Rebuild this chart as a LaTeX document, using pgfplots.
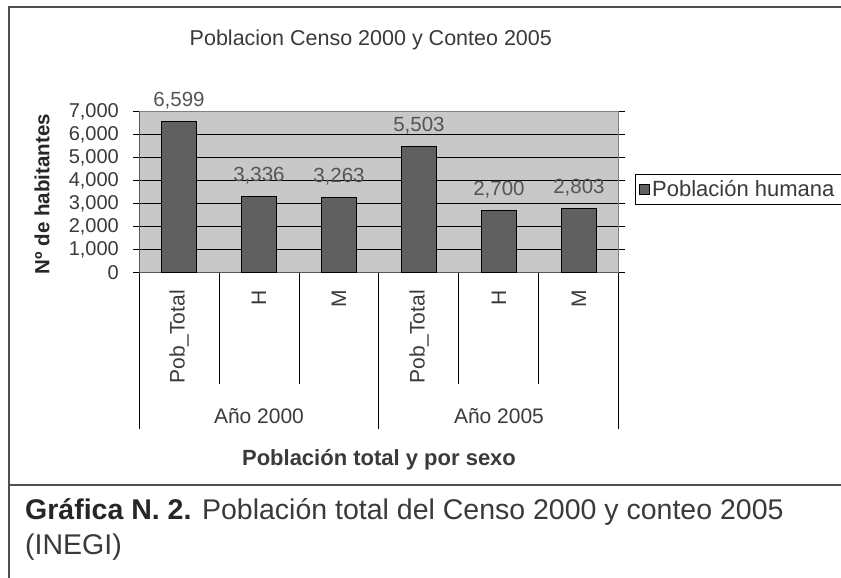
\documentclass[border=0pt]{standalone}
\usepackage{fontspec}
\setmainfont{Liberation Sans}
\usepackage{pgfplots}
\pgfplotsset{compat=1.18}
\definecolor{barcol}{HTML}{606060}
\definecolor{bgcol}{HTML}{C8C8C8}
\definecolor{txt}{HTML}{3A3A3A}
\definecolor{lbl}{HTML}{555555}
\definecolor{framecol}{HTML}{505050}
\begin{document}
\begin{tikzpicture}
\useasboundingbox (0pt,0pt) rectangle (841pt,578pt);
\clip (0pt,0pt) rectangle (841pt,578pt);
\fill[white] (0pt,0pt) rectangle (841pt,578pt);
\draw[framecol, line width=2pt] (9pt,-10pt) -- (9pt,571pt) -- (900pt,571pt);
\draw[framecol, line width=2pt] (9pt,93pt) -- (900pt,93pt);
\begin{axis}[
  at={(139pt,305pt)}, anchor=south west,
  scale only axis, width=480pt, height=161pt,
  xmin=-0.5, xmax=5.5, ymin=0, ymax=7000,
  clip=false,
  axis background/.style={fill=bgcol},
  axis line style={draw=gray!70!black, line width=1pt},
  ytick={0,1000,...,7000},
  ymajorgrids, grid style={black, line width=1pt},
  tick align=outside, major tick length=6pt,
  ytick style={black, line width=1pt},
  xtick style={draw=none},
  xtick={0,...,5},
  xticklabels={Pob\_Total,H,M,Pob\_Total,H,M},
  x tick label style={yshift=-11pt, rotate=90, anchor=east, inner sep=0pt, font=\fontsize{21}{25}\selectfont, text=txt},
  y tick label style={inner sep=0pt, xshift=-14pt, anchor=east, font=\fontsize{20}{24}\selectfont, text=txt},
  /pgf/number format/1000 sep={,},
  /pgf/number format/assume math mode=true,
  title={Poblacion Censo 2000 y Conteo 2005},
  title style={at={(axis description cs:0.483,1.373)}, anchor=base, inner sep=0pt, font=\fontsize{21.5}{25}\selectfont, text=txt},
  xlabel={Población total y por sexo},
  xlabel style={at={(axis description cs:0.5,-1.193)}, anchor=base, inner sep=0pt, font=\bfseries\fontsize{22}{26}\selectfont, text=txt},
  ylabel={Nº de habitantes},
  ylabel style={at={(axis description cs:-0.202,0.49)}, anchor=center, inner sep=0pt, font=\bfseries\fontsize{20.5}{24}\selectfont, text=black!85},
  legend style={at={(axis description cs:1.033,0.615)}, anchor=north west, draw=black, line width=1pt, fill=white, font=\fontsize{22}{26}\selectfont, text=txt, inner xsep=4pt, inner ysep=4pt},
  legend image code/.code={\draw[fill=barcol, draw=black, line width=0.8pt] (0pt,-5pt) rectangle (10pt,5pt);},
]
\addplot[ybar, bar width=35pt, fill=barcol, draw=black, line width=1pt,
  nodes near coords,
  every node near coord/.append style={anchor=base, inner sep=0pt, yshift=15pt, font=\fontsize{20.5}{24}\selectfont, text=lbl}]
  coordinates {(0,6599) (1,3336) (2,3263) (3,5503) (4,2700) (5,2803)};
\addlegendentry{Población humana\phantom{MMM}}
\draw[black, line width=1pt] (axis cs:-0.5,0) -- ++(0pt,-156pt);
\draw[black, line width=1pt] (axis cs:0.5,0) -- ++(0pt,-111pt);
\draw[black, line width=1pt] (axis cs:1.5,0) -- ++(0pt,-111pt);
\draw[black, line width=1pt] (axis cs:2.5,0) -- ++(0pt,-156pt);
\draw[black, line width=1pt] (axis cs:3.5,0) -- ++(0pt,-111pt);
\draw[black, line width=1pt] (axis cs:4.5,0) -- ++(0pt,-111pt);
\draw[black, line width=1pt] (axis cs:5.5,0) -- ++(0pt,-156pt);
\draw[gray, line width=1pt] (axis cs:-0.5,7000) -- (axis cs:5.5,7000) -- (axis cs:5.5,0);
\node[anchor=base, inner sep=0pt, font=\fontsize{21}{25}\selectfont, text=txt] at ([yshift=-151pt]axis cs:1,0) {Año 2000};
\node[anchor=base, inner sep=0pt, font=\fontsize{21}{25}\selectfont, text=txt] at ([yshift=-151pt]axis cs:4,0) {Año 2005};
\end{axis}
\node[anchor=base west, inner sep=0pt, font=\fontsize{28.5}{33}\selectfont, text=txt] at (25pt,58pt) {\textbf{\color{black!85}Gráfica N. 2.} Población total del Censo 2000 y conteo 2005};
\node[anchor=base west, inner sep=0pt, font=\fontsize{28.5}{33}\selectfont, text=txt] at (25pt,23pt) {(INEGI)};
\end{tikzpicture}
\end{document}
